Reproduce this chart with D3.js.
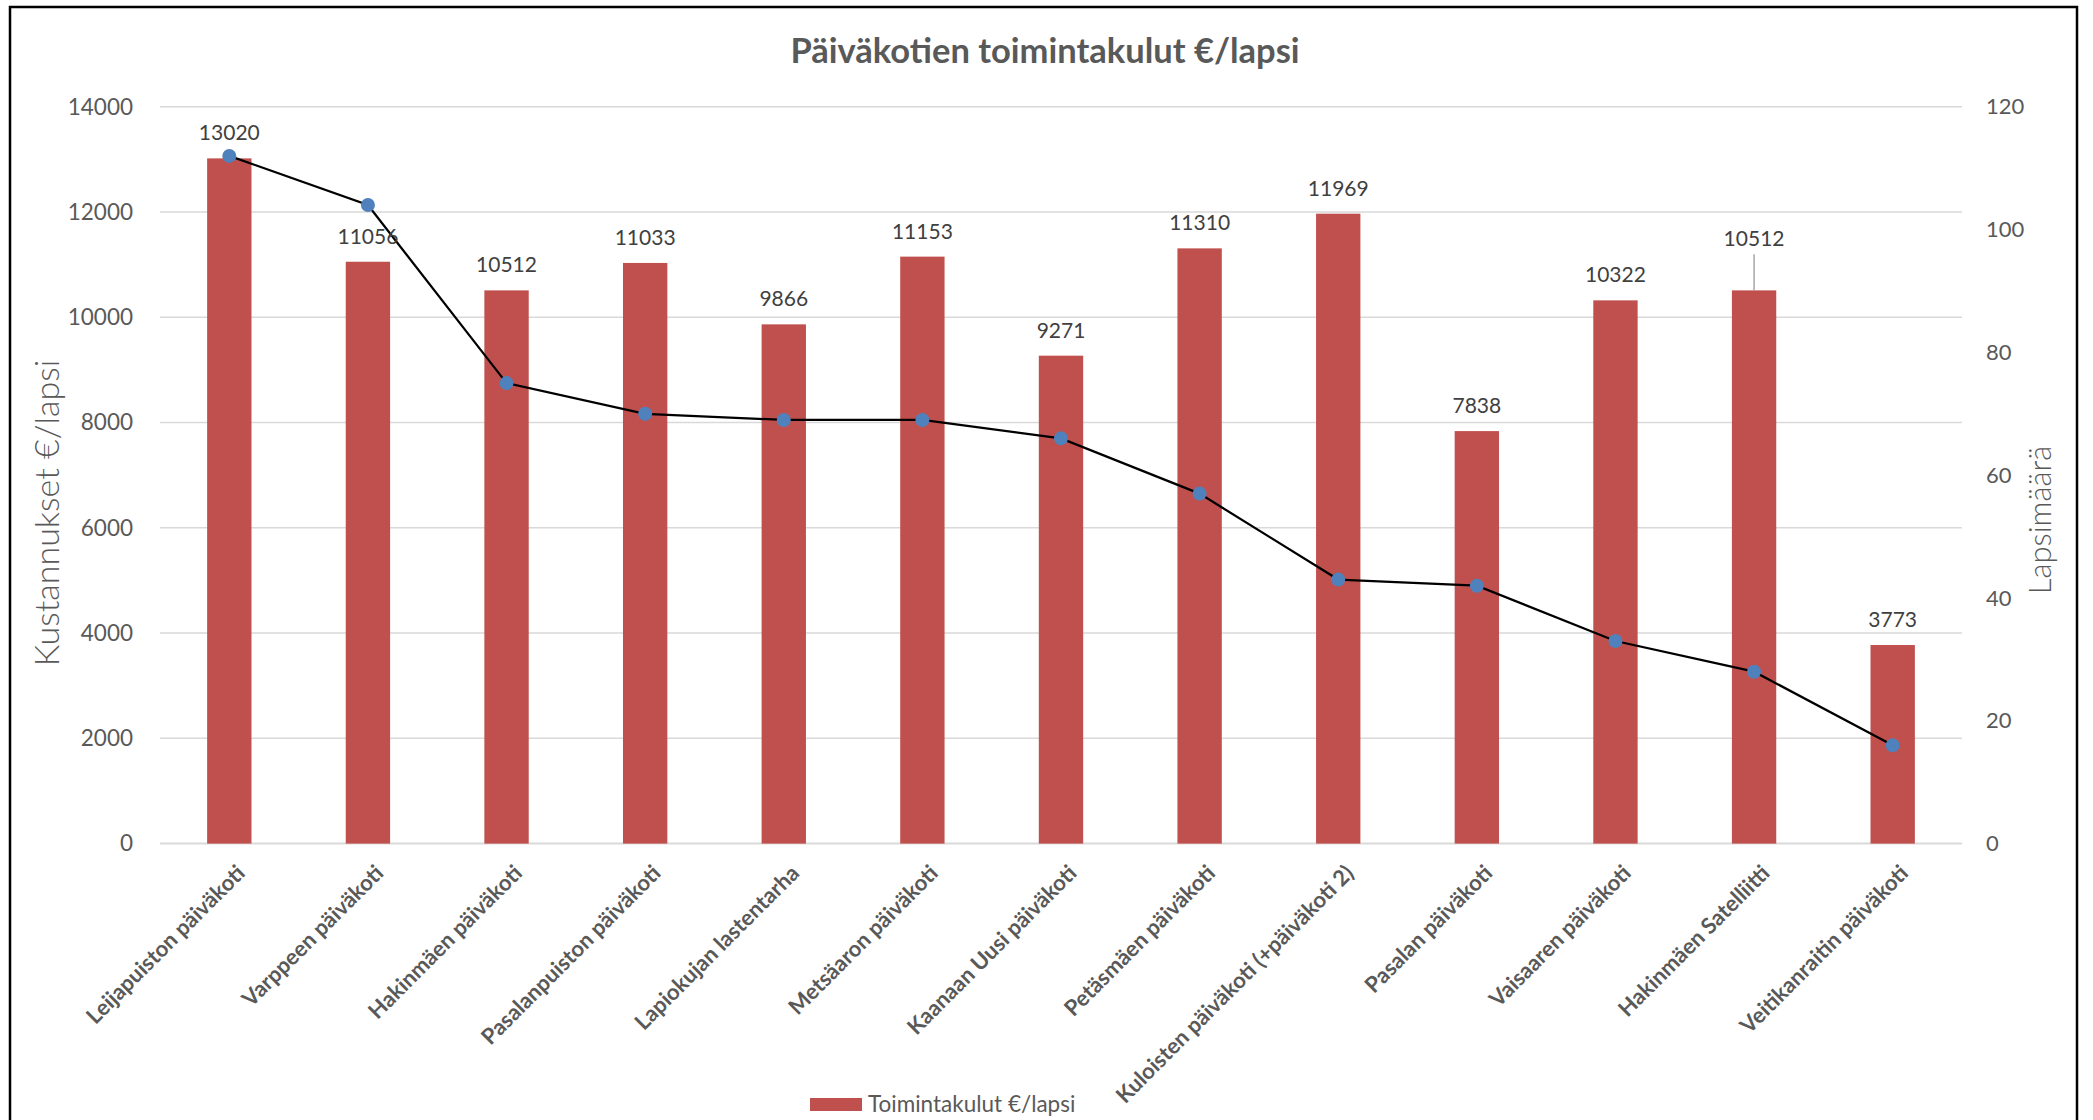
<!DOCTYPE html>
<html>
<head>
<meta charset="utf-8">
<script src="https://cdn.jsdelivr.net/npm/d3@7"></script>
<style>
  body { margin: 0; background: #fff; }
  svg { display: block; font-family: Lato, "Open Sans", sans-serif; }
</style>
</head>
<body>
<svg id="chart" width="2093" height="1120"></svg>
<script>
// data
var categories = [
  "Leijapuiston päiväkoti", "Varppeen päiväkoti", "Hakinmäen päiväkoti",
  "Pasalanpuiston päiväkoti", "Lapiokujan lastentarha", "Metsäaron päiväkoti",
  "Kaanaan Uusi päiväkoti", "Petäsmäen päiväkoti", "Kuloisten päiväkoti (+päiväkoti 2)",
  "Pasalan päiväkoti", "Vaisaaren päiväkoti", "Hakinmäen Satelliitti", "Veitikanraitin päiväkoti"
];
var costs = [13020, 11056, 10512, 11033, 9866, 11153, 9271, 11310, 11969, 7838, 10322, 10512, 3773];
var children = [112, 104, 75, 70, 69, 69, 66, 57, 43, 42, 33, 28, 16];
var leftTicks = [0, 2000, 4000, 6000, 8000, 10000, 12000, 14000];
var rightTicks = [0, 20, 40, 60, 80, 100, 120];

(function () {

var svg = d3.select("#chart");

// plot area
var left = 160, right = 1962, plotTop = 106.8, bottom = 843.6;

var x = d3.scaleBand().domain(categories).range([left, right]).padding(0);
var yL = d3.scaleLinear().domain([0, 14000]).range([bottom, plotTop]);
var yR = d3.scaleLinear().domain([0, 120]).range([bottom, plotTop]);
var barW = x.bandwidth() * 0.32;
var cx = function (d) { return x(d) + x.bandwidth() / 2; };

// outer frame
svg.append("rect").attr("x", 10).attr("y", 7).attr("width", 2067).attr("height", 1130)
  .attr("fill", "none").attr("stroke", "#000").attr("stroke-width", 2.5);

// title
svg.append("text").attr("x", 1045).attr("y", 51).attr("dy", "0.35em")
  .attr("text-anchor", "middle").attr("fill", "#595959")
  .style("font-size", "34.5px").style("font-weight", "bold")
  .text("Päiväkotien toimintakulut €/lapsi");

// gridlines
svg.append("g").selectAll("line").data(leftTicks).enter().append("line")
  .attr("x1", left).attr("x2", right)
  .attr("y1", function (d) { return yL(d); }).attr("y2", function (d) { return yL(d); })
  .attr("stroke", "#D9D9D9").attr("stroke-width", function (d) { return d === 0 ? 2 : 1.5; });

// left axis labels
var axL = svg.append("g").attr("transform", "translate(" + (left - 27) + ",0)")
  .call(d3.axisLeft(yL).tickValues(leftTicks).tickFormat(d3.format("d")).tickSize(0).tickPadding(0));
axL.select(".domain").remove();
axL.selectAll("text").attr("fill", "#595959").style("font-size", "22.5px").style("font-family", "Lato, sans-serif");

// right axis labels
var axR = svg.append("g").attr("transform", "translate(" + (right + 24) + ",0)")
  .call(d3.axisRight(yR).tickValues(rightTicks).tickFormat(d3.format("d")).tickSize(0).tickPadding(0));
axR.select(".domain").remove();
axR.selectAll("text").attr("fill", "#595959").style("font-size", "22px").style("font-family", "Lato, sans-serif");

// axis titles
svg.append("text").attr("transform", "translate(47,513) rotate(-90)").attr("dy", "0.35em")
  .attr("text-anchor", "middle").attr("fill", "#595959")
  .style("font-size", "34px").style("font-weight", "300")
  .text("Kustannukset €/lapsi");
svg.append("text").attr("transform", "translate(2040,520) rotate(-90)").attr("dy", "0.35em")
  .attr("text-anchor", "middle").attr("fill", "#595959")
  .style("font-size", "31px").style("font-weight", "300")
  .text("Lapsimäärä");

// bars
svg.append("g").selectAll("rect").data(costs).enter().append("rect")
  .attr("x", function (d, i) { return cx(categories[i]) - barW / 2; })
  .attr("y", function (d) { return yL(d); })
  .attr("width", barW)
  .attr("height", function (d) { return bottom - yL(d); })
  .attr("fill", "#C0504D");

// children line
var line = d3.line()
  .x(function (d, i) { return cx(categories[i]); })
  .y(function (d) { return yR(d); });
svg.append("path").datum(children).attr("d", line)
  .attr("fill", "none").attr("stroke", "#000").attr("stroke-width", 2.25);
svg.append("g").selectAll("circle").data(children).enter().append("circle")
  .attr("cx", function (d, i) { return cx(categories[i]); })
  .attr("cy", function (d) { return yR(d); })
  .attr("r", 7).attr("fill", "#4F81BD");

// x labels
svg.append("g").selectAll("text").data(categories).enter().append("text")
  .attr("transform", function (d) { return "translate(" + (cx(d) + 6) + "," + (bottom + 20) + ") rotate(-45)"; })
  .attr("dy", "0.7em")
  .attr("text-anchor", "end").attr("fill", "#595959")
  .style("font-size", "22px").style("font-weight", "bold")
  .text(function (d) { return d; });

// data labels (the Satelliitti label was dragged up in the original, with a leader line)
var lifted = 11;
var labels = svg.append("g");
costs.forEach(function (v, i) {
  var ly = yL(v) - 18 - (i === lifted ? 26 : 0);
  labels.append("text").attr("x", cx(categories[i])).attr("y", ly)
    .attr("text-anchor", "middle").attr("fill", "#404040")
    .style("font-size", "21px").text(v);
  if (i === lifted) {
    labels.append("line").attr("x1", cx(categories[i])).attr("x2", cx(categories[i]))
      .attr("y1", ly + 8).attr("y2", yL(v))
      .attr("stroke", "#A6A6A6").attr("stroke-width", 1.5);
  }
});

// legend
var lg = svg.append("g").attr("transform", "translate(810,1098)");
lg.append("rect").attr("width", 52).attr("height", 13).attr("fill", "#C0504D");
lg.append("text").attr("x", 58).attr("y", 6.5).attr("dy", "0.35em").attr("fill", "#595959")
  .style("font-size", "22.5px").text("Toimintakulut €/lapsi");

})();
</script>
</body>
</html>
